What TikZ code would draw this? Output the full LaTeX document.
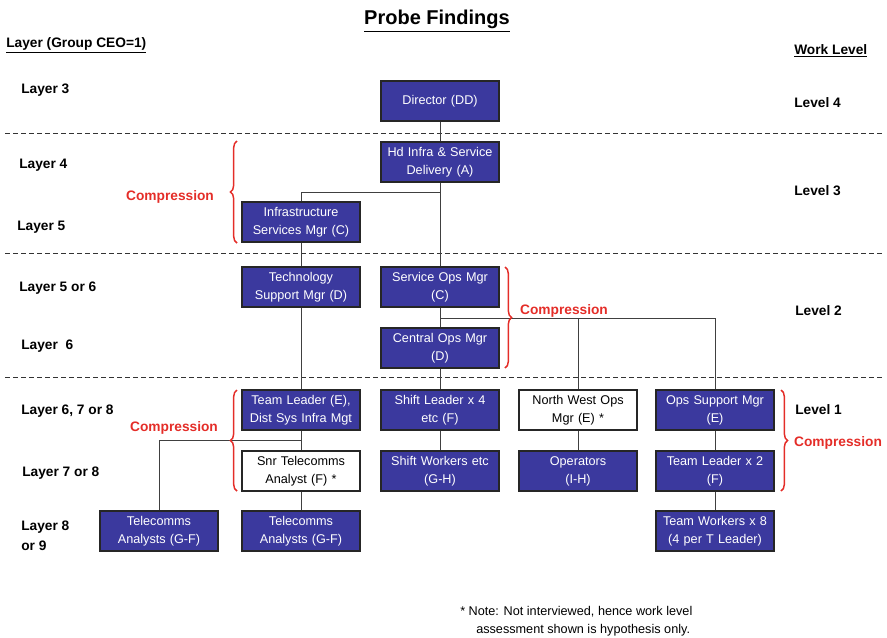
\documentclass[tikz,border=0pt]{standalone}
\usepackage{fontspec}
\setmainfont{Liberation Sans}
\usetikzlibrary{decorations.pathreplacing}

\definecolor{roleblue}{RGB}{59,57,158}
\definecolor{compred}{RGB}{228,45,40}

\tikzset{
	role/.style={draw=black!85, line width=0.9pt, fill=roleblue, text=white,
		minimum width=88.5pt, minimum height=30pt, text width=86pt, align=center,
		inner sep=1pt, font=\fontsize{9.5}{13.5}\selectfont},
	rolewhite/.style={role, fill=white, text=black},
	orgline/.style={draw=black!75, line width=0.75pt},
	layerline/.style={draw=black!80, line width=0.6pt, dash pattern=on 3.5pt off 2.5pt},
	sidelabel/.style={anchor=west, inner sep=0pt, align=left,
		font=\fontsize{10.3}{15}\selectfont\bfseries},
	compbrace/.style={draw=compred, line width=1.1pt, decorate,
		decoration={brace, amplitude=5pt}},
	complabel/.style={text=compred, inner sep=0pt, font=\fontsize{10.3}{12.5}\selectfont\bfseries},
}

\begin{document}
\begin{tikzpicture}[x=0.75pt, y=-0.75pt]
	\useasboundingbox (0,0) rectangle (887,637);

	\node[font=\fontsize{15}{18}\selectfont\bfseries] (title) at (437,21) {\underline{Probe Findings}};
	\node[sidelabel] (layerhead) at (6,45) {\underline{Layer (Group CEO=1)}};
	\node[sidelabel] (workhead) at (794,51) {\underline{Work Level}};

	\draw[layerline] (5,133) -- (882,133);
	\draw[layerline] (5,253) -- (882,253);
	\draw[layerline] (5,377) -- (882,377);

	\node[sidelabel] (layer3) at (21,90) {Layer 3};
	\node[sidelabel] (layer4) at (19,165) {Layer 4};
	\node[sidelabel] (layer5) at (17,227) {Layer 5};
	\node[sidelabel] (layer56) at (19,288) {Layer 5 or 6};
	\node[sidelabel] (layer6) at (21,346) {Layer \ 6};
	\node[sidelabel] (layer678) at (21,411) {Layer 6, 7 or 8};
	\node[sidelabel] (layer78) at (22,473) {Layer 7 or 8};
	\node[sidelabel] (layer89) at (21,536) {Layer 8\\or 9};

	\node[sidelabel] (level4) at (794,103) {Level 4};
	\node[sidelabel] (level3) at (794,191) {Level 3};
	\node[sidelabel] (level2) at (795,311) {Level 2};
	\node[sidelabel] (level1) at (795,410) {Level 1};

	\node[role] (dir) at (440,101) {Director (DD)};
	\node[role] (hdinfra) at (440,162) {Hd Infra \& Service\\Delivery (A)};
	\node[role] (infra) at (301,222) {Infrastructure\\Services Mgr (C)};
	\node[role] (techsup) at (301,287) {Technology\\Support Mgr (D)};
	\node[role] (svcops) at (440,287) {Service Ops Mgr\\(C)};
	\node[role] (centops) at (440,348) {Central Ops Mgr\\(D)};

	\node[role] (teamlead) at (301,410) {Team Leader (E),\\Dist Sys Infra Mgt};
	\node[rolewhite] (snrtel) at (301,471) {Snr Telecomms\\Analyst (F) *};
	\node[role] (telleft) at (159,531) {Telecomms\\Analysts (G-F)};
	\node[role] (telmid) at (301,531) {Telecomms\\Analysts (G-F)};

	\node[role] (shiftlead) at (440,410) {Shift Leader x 4\\etc (F)};
	\node[role] (shiftwork) at (440,471) {Shift Workers etc\\(G-H)};
	\node[rolewhite] (nwops) at (578,410) {North West Ops\\Mgr (E) *};
	\node[role] (operators) at (578,471) {Operators\\(I-H)};
	\node[role] (opsup) at (715,410) {Ops Support Mgr\\(E)};
	\node[role] (tlx2) at (715,471) {Team Leader x 2\\(F)};
	\node[role] (teamwork) at (715,531) {Team Workers x 8\\(4 per T Leader)};

	\coordinate (infrajoin) at (440,192);
	\coordinate (opsjoin) at (440,318);
	\coordinate (teljoin) at (301,440);

	\draw[orgline] (dir) -- (hdinfra);
	\draw[orgline] (hdinfra) -- (svcops);
	\draw[orgline] (infrajoin) -| (infra);
	\draw[orgline] (infra) -- (techsup);
	\draw[orgline] (techsup) -- (teamlead);
	\draw[orgline] (teamlead) -- (snrtel);
	\draw[orgline] (snrtel) -- (telmid);
	\draw[orgline] (teljoin) -| (telleft);
	\draw[orgline] (svcops) -- (centops);
	\draw[orgline] (centops) -- (shiftlead);
	\draw[orgline] (shiftlead) -- (shiftwork);
	\draw[orgline] (opsjoin) -| (nwops);
	\draw[orgline] (opsjoin) -| (opsup);
	\draw[orgline] (nwops) -- (operators);
	\draw[orgline] (opsup) -- (tlx2);
	\draw[orgline] (tlx2) -- (teamwork);

	\draw[compbrace] (237,243) -- (237,141);
	\node[complabel] (comp1) at (170,197) {Compression};
	\draw[compbrace] (505,267) -- (505,368);
	\node[complabel] (comp2) at (564,311) {Compression};
	\draw[compbrace] (237,491) -- (237,390);
	\node[complabel] (comp3) at (174,428) {Compression};
	\draw[compbrace] (781,390) -- (781,491);
	\node[complabel] (comp4) at (838,443) {Compression};

	\node[anchor=west, inner sep=0pt, align=left, font=\fontsize{9.5}{13.5}\selectfont] (note) at (460,621)
		{* Note: Not interviewed, hence work level\\\hspace*{12pt}assessment shown is hypothesis only.};
\end{tikzpicture}
\end{document}
